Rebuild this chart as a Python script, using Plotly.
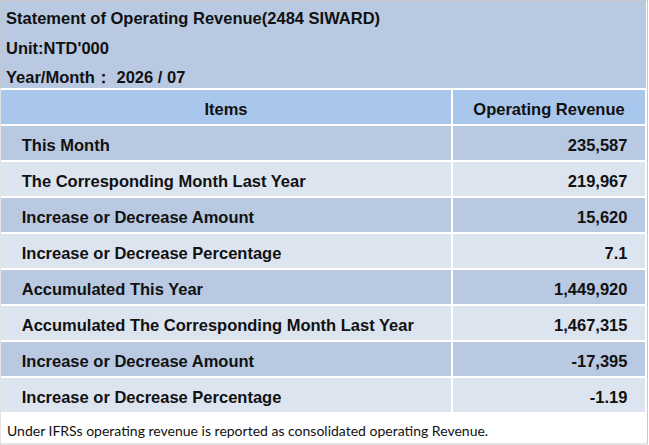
import plotly.graph_objects as go

W, H = 649, 445

title_lines = ["Statement of Operating Revenue(2484 SIWARD)", "Unit:NTD'000", "Year/Month\uff1a 2026 / 07"]
header = ["Items", "Operating Revenue"]
items = [
    "This Month",
    "The Corresponding Month Last Year",
    "Increase or Decrease Amount",
    "Increase or Decrease Percentage",
    "Accumulated This Year",
    "Accumulated The Corresponding Month Last Year",
    "Increase or Decrease Amount",
    "Increase or Decrease Percentage",
]
revenue = ["235,587", "219,967", "15,620", "7.1", "1,449,920", "1,467,315", "-17,395", "-1.19"]
footnote = "Under IFRSs operating revenue is reported as consolidated operating Revenue."

DARK = "#b8c9e1"
LIGHT = "#dce4f0"
HEAD = "#a9c6ec"
NB = "&nbsp;"
FONT = "Arial"
FS = 16.5


def py(px):
    return 1 - px / H


row_fill = [DARK if i % 2 == 0 else LIGHT for i in range(len(items))]
col1 = ["<b>" + NB * 3 + t + "</b>" for t in items]
col2 = ["<b>" + v + NB * 2 + "\u200a</b>" for v in revenue]

fig = go.Figure(go.Table(
    domain=dict(x=[0, 646 / W], y=[py(415), py(89)]),
    columnwidth=[452, 194],
    header=dict(
        values=["<b>" + h + "</b>" for h in header],
        fill_color=HEAD,
        line=dict(color="white", width=2),
        align="center",
        height=36,
        font=dict(family=FONT, size=FS, color="#111111"),
    ),
    cells=dict(
        values=[col1, col2],
        fill_color=[row_fill, row_fill],
        line=dict(color="white", width=2),
        align=["left", "right"],
        height=36,
        font=dict(family=FONT, size=FS, color="#111111"),
    ),
))

# top panel background and outer frame
fig.add_shape(type="rect", xref="paper", yref="paper", x0=0, x1=646 / W, y0=py(89), y1=1,
              fillcolor=DARK, line_width=0, layer="below")
fig.add_shape(type="rect", xref="paper", yref="paper", x0=0, x1=647.5 / W, y0=py(444), y1=py(0.5),
              fillcolor="rgba(0,0,0,0)", line=dict(color="#c8c8c8", width=1))

for i, t in enumerate(title_lines):
    fig.add_annotation(text="<b>" + t + "</b>", xref="paper", yref="paper",
                       x=4 / W, y=py(18 + 29.5 * i), xanchor="left", yanchor="middle",
                       showarrow=False,
                       font=dict(family=FONT, size=FS, color="#111111"))

fig.add_annotation(text=footnote, xref="paper", yref="paper", x=5 / W, y=py(430),
                   xanchor="left", yanchor="middle", showarrow=False,
                   font=dict(family="Lato", size=14, color="#111111"))

fig.update_layout(width=W, height=H, margin=dict(l=0, r=0, t=0, b=0),
                  paper_bgcolor="white", plot_bgcolor="white")

# no body margin, and nudge the table text a couple px down so it sits mid-row
js = (
    "document.body.style.margin='0';"
    "var s=document.createElement('style');"
    "s.textContent='.cell-text{transform:translateY(2.5px)}';"
    "document.head.appendChild(s);"
)
fig.write_html("out.html", config={"displayModeBar": False}, post_script=js)
